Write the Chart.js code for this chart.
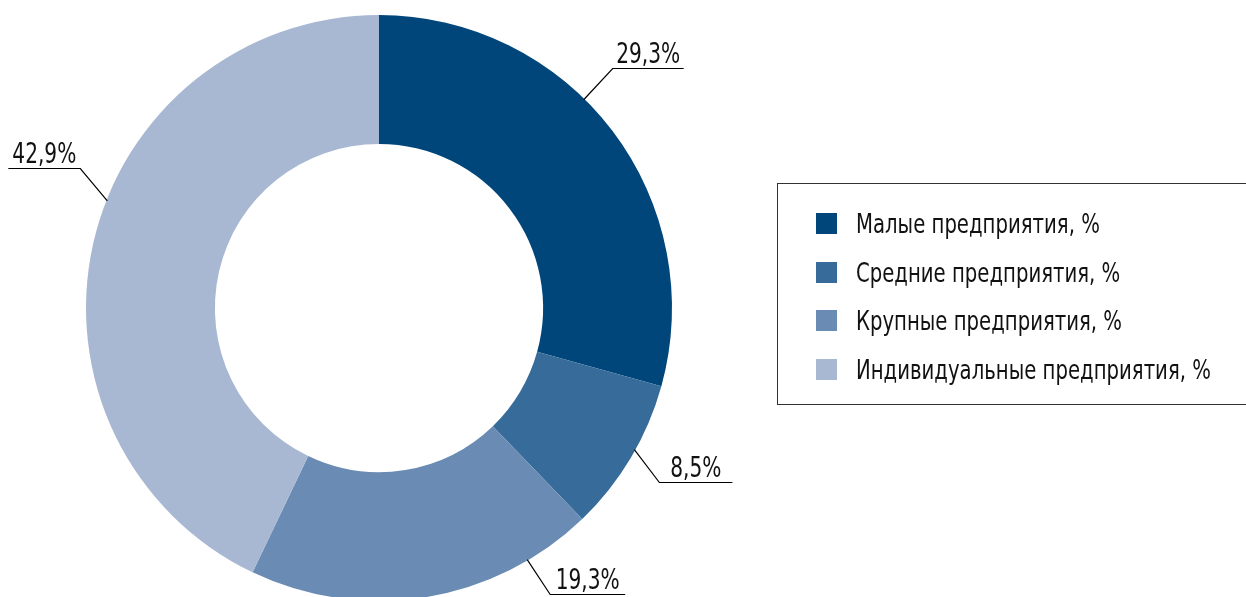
<!DOCTYPE html>
<html>
<head>
<meta charset="utf-8">
<script src="https://cdn.jsdelivr.net/npm/chart.js@4/dist/chart.umd.min.js"></script>
<style>
  html, body { margin: 0; padding: 0; background: #fff; overflow: hidden; }
  body { width: 1246px; height: 597px; position: relative; }
  #wrap { position: absolute; left: 0; top: 0; width: 1246px; height: 610px; }
  #legend { position: absolute; left: 777px; top: 183px; width: 480px; height: 222px;
    border: 1px solid #333; box-sizing: border-box; font-family: "Liberation Sans Narrow", "DejaVu Sans Condensed", sans-serif; font-size: 27px; color: #111; }
  .item { position: absolute; left: 38px; height: 30px; line-height: 30px; white-space: nowrap; }
  .sw { position: absolute; left: 0; top: 4px; width: 21px; height: 21px; }
  .lab { position: absolute; left: 40px; top: 0; transform: scaleX(0.81); transform-origin: 0 50%; }
</style>
</head>
<body>
<div id="wrap"><canvas id="c"></canvas></div>
<div id="legend"></div>
<script>
const categories = ["Малые предприятия, %", "Средние предприятия, %", "Крупные предприятия, %", "Индивидуальные предприятия, %"];
const values = [29.3, 8.5, 19.3, 42.9];
const valueLabels = ["29,3%", "8,5%", "19,3%", "42,9%"];
const colors = ["#00467A", "#376B9A", "#6A8BB3", "#A8B8D3"];

// legend (HTML text)
const legend = document.getElementById('legend');
categories.forEach((c, i) => {
  const d = document.createElement('div');
  d.className = 'item';
  d.style.top = (25 + i * 48.5) + 'px';
  d.innerHTML = '<span class="sw" style="background:' + colors[i] + '"></span><span class="lab">' + c + '</span>';
  legend.appendChild(d);
});

// leader-line style per label: anchor angle (deg from top, clockwise), elbow offset, horizontal run
const leaderStyle = [
  { angle: 44.5, dx: 29, dy: -32, run: 71 },
  { angle: 119, dx: 25, dy: 32, run: 73 },
  { angle: 149.5, dx: 23, dy: 34, run: 75 },
  { angle: 291.5, dx: -27, dy: -33, run: -72 }
];

const leaderPlugin = {
  id: 'leaders',
  afterDatasetsDraw(chart) {
    const ctx = chart.ctx;
    const meta = chart.getDatasetMeta(0);
    ctx.save();
    ctx.strokeStyle = '#000';
    ctx.lineWidth = 1.2;
    ctx.fillStyle = '#111';
    ctx.font = '28px "Liberation Sans Narrow", "DejaVu Sans Condensed", sans-serif';
    ctx.textAlign = 'center';
    ctx.textBaseline = 'alphabetic';
    meta.data.forEach((arc, i) => {
      const s = leaderStyle[i];
      const a = s.angle * Math.PI / 180;
      const r = arc.outerRadius - 1;
      const x0 = arc.x + r * Math.sin(a);
      const y0 = arc.y - r * Math.cos(a);
      const x1 = x0 + s.dx, y1 = Math.round(y0 + s.dy) + 0.5;
      const x2 = x1 + s.run;
      ctx.beginPath();
      ctx.moveTo(x0, y0);
      ctx.lineTo(x1, y1);
      ctx.lineTo(x2, y1);
      ctx.stroke();
      ctx.save();
      ctx.translate((x1 + x2) / 2, y1 - 6);
      ctx.scale(0.8, 1);
      ctx.fillText(valueLabels[i], 0, 0);
      ctx.restore();
    });
    ctx.restore();
  }
};

new Chart(document.getElementById('c'), {
  type: 'doughnut',
  data: {
    labels: categories,
    datasets: [{
      data: values,
      backgroundColor: colors,
      borderWidth: 0
    }]
  },
  options: {
    responsive: true,
    maintainAspectRatio: false,
    animation: false,
    cutout: '56%',
    layout: { padding: { left: 86, right: 574, top: 15, bottom: 9 } },
    plugins: { legend: { display: false }, tooltip: { enabled: false } }
  },
  plugins: [leaderPlugin]
});
</script>
</body>
</html>
